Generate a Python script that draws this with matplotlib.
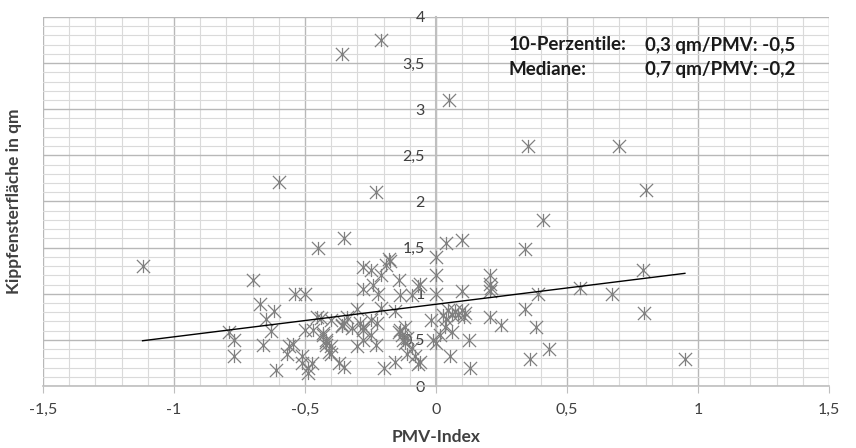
import numpy as np
import matplotlib
matplotlib.use("Agg")
import matplotlib.pyplot as plt
from matplotlib.path import Path
from matplotlib.ticker import MultipleLocator, FuncFormatter

plt.rcParams['font.family'] = ['Lato', 'DejaVu Sans']

# PMV-Index vs. Kippfensterfläche (qm)
pmv = [-1.12, -0.79, -0.77, -0.77, -0.70, -0.67, -0.65, -0.62, -0.63, -0.66,
       -0.61, -0.60, -0.54, -0.50, -0.45, -0.455, -0.44, -0.50, -0.47, -0.43,
       -0.42, -0.42, -0.41, -0.40, -0.545, -0.56, -0.57, -0.51, -0.51, -0.49,
       -0.49, -0.475, -0.37, -0.35, -0.36, -0.21, -0.35, -0.23, -0.35, -0.36,
       -0.34, -0.40, -0.42, -0.40, -0.30, -0.29, -0.25, -0.226, -0.21, -0.157,
       -0.30, -0.28, -0.23, -0.20, -0.157, -0.176, -0.19, -0.28, -0.25, -0.21,
       -0.14, -0.28, -0.24, -0.22, -0.137, -0.093, -0.067, -0.06, -0.137, -0.118,
       -0.13, -0.11, -0.125, -0.093, -0.11, -0.08, -0.06, -0.07, -0.02, -0.01,
       0.0, 0.0, 0.0, 0.0, 0.04, 0.10, 0.05, -0.18, 0.015, 0.06,
       0.034, 0.028, 0.047, 0.06, 0.073, 0.085, 0.098, 0.11, 0.105, 0.04,
       0.126, 0.053, 0.13, 0.10, 0.206, 0.206, 0.21, 0.206, 0.206, 0.247,
       0.34, 0.34, 0.35, 0.70, 0.80, 0.41, 0.39, 0.38, 0.43, 0.36,
       0.55, 0.67, 0.79, 0.795, 0.95, -0.14, -0.12, -0.28, -0.25, -0.32,
       -0.28, -0.43, -0.36]
area = [1.30, 0.59, 0.50, 0.32, 1.15, 0.89, 0.73, 0.81, 0.60, 0.44,
        0.17, 2.21, 1.00, 1.00, 1.50, 0.75, 0.74, 0.61, 0.61, 0.55,
        0.48, 0.44, 0.37, 0.43, 0.46, 0.43, 0.35, 0.32, 0.25, 0.19,
        0.14, 0.25, 0.25, 0.21, 3.60, 3.75, 1.60, 2.10, 0.68, 0.65,
        0.75, 0.72, 0.50, 0.35, 0.84, 0.68, 0.72, 0.68, 0.85, 0.81,
        0.43, 0.50, 0.44, 0.19, 0.26, 1.35, 1.31, 1.29, 1.26, 1.20,
        1.15, 1.05, 1.10, 1.00, 0.99, 0.99, 1.08, 1.11, 0.61, 0.64,
        0.55, 0.52, 0.50, 0.41, 0.35, 0.32, 0.26, 0.24, 0.72, 0.50,
        0.47, 1.40, 1.20, 1.00, 1.55, 1.58, 3.10, 1.38, 0.55, 0.59,
        0.64, 0.77, 0.82, 0.77, 0.81, 0.77, 0.82, 0.79, 0.75, 0.73,
        0.50, 0.32, 0.19, 1.03, 1.20, 1.11, 1.06, 1.03, 0.75, 0.66,
        0.84, 1.49, 2.60, 2.60, 2.12, 1.80, 1.00, 0.64, 0.40, 0.29,
        1.06, 1.00, 1.26, 0.79, 0.29, 0.58, 0.47, 0.61, 0.55, 0.63,
        0.64, 0.57, 0.66]

# linear trendline (Excel)
trend_slope = 0.353
trend_intercept = 0.886

x_ticks = [-1.5, -1, -0.5, 0, 0.5, 1, 1.5]
y_ticks = [0, 0.5, 1, 1.5, 2, 2.5, 3, 3.5, 4]

# asterisk marker: X plus vertical bar
star = Path([(-1, -1), (1, 1), (-1, 1), (1, -1), (0, -1), (0, 1)],
            [Path.MOVETO, Path.LINETO, Path.MOVETO, Path.LINETO, Path.MOVETO, Path.LINETO])

W, H = 856, 448
fig = plt.figure(figsize=(W / 100, H / 100), dpi=100)
ax = fig.add_axes([43 / W, 62 / H, 786 / W, 369 / H])

ax.set_xlim(-1.5, 1.5)
ax.set_ylim(0, 4)
ax.set_xticks(x_ticks)
ax.set_yticks(y_ticks)
ax.xaxis.set_minor_locator(MultipleLocator(0.1))
ax.yaxis.set_minor_locator(MultipleLocator(0.1))
fmt = FuncFormatter(lambda v, p: ('%g' % v).replace('.', ','))
ax.xaxis.set_major_formatter(fmt)
ax.yaxis.set_major_formatter(fmt)

ax.grid(which='minor', color='#dadada', lw=0.8)
ax.grid(which='major', color='#b8b8b8', lw=1.0)
ax.set_axisbelow(True)

for s in ['top', 'right']:
    ax.spines[s].set_visible(False)
ax.spines['left'].set_position(('data', 0))
ax.spines['left'].set_color('#bfbfbf')
ax.spines['left'].set_linewidth(1.5)
ax.spines['bottom'].set_color('#bfbfbf')
ax.spines['bottom'].set_linewidth(1.2)

ax.tick_params(which='major', length=5, color='#bfbfbf', labelsize=11.5, labelcolor='#404040')
ax.tick_params(axis='x', which='major', pad=7)
ax.tick_params(axis='y', which='major', pad=3)
ax.tick_params(which='minor', length=0)

ax.plot(pmv, area, ls='none', marker=star, ms=9.5, mec='#808080', mew=0.9,
        mfc='none', zorder=3)

tx = np.array([min(pmv), max(pmv)])
ax.plot(tx, trend_slope * tx + trend_intercept, color='black', lw=1.0, zorder=4)

def px_text(x, y, s):
    fig.text(x / W, 1 - y / H, s, fontsize=13.5, fontweight='bold',
             va='center', ha='left', color='#1a1a1a')

px_text(509, 45, '10-Perzentile:')
px_text(645, 45, '0,3 qm/PMV: -0,5')
px_text(509, 69, 'Mediane:')
px_text(645, 69, '0,7 qm/PMV: -0,2')

fig.text(436 / W, 1 - 437 / H, 'PMV-Index', fontsize=12.5, fontweight='bold',
         color='#404040', ha='center', va='center')
fig.text(14 / W, 1 - 201 / H, 'Kippfensterfläche in qm', fontsize=12.5, fontweight='bold',
         color='#404040', ha='center', va='center', rotation=90)

fig.savefig('out.png', dpi=100)
